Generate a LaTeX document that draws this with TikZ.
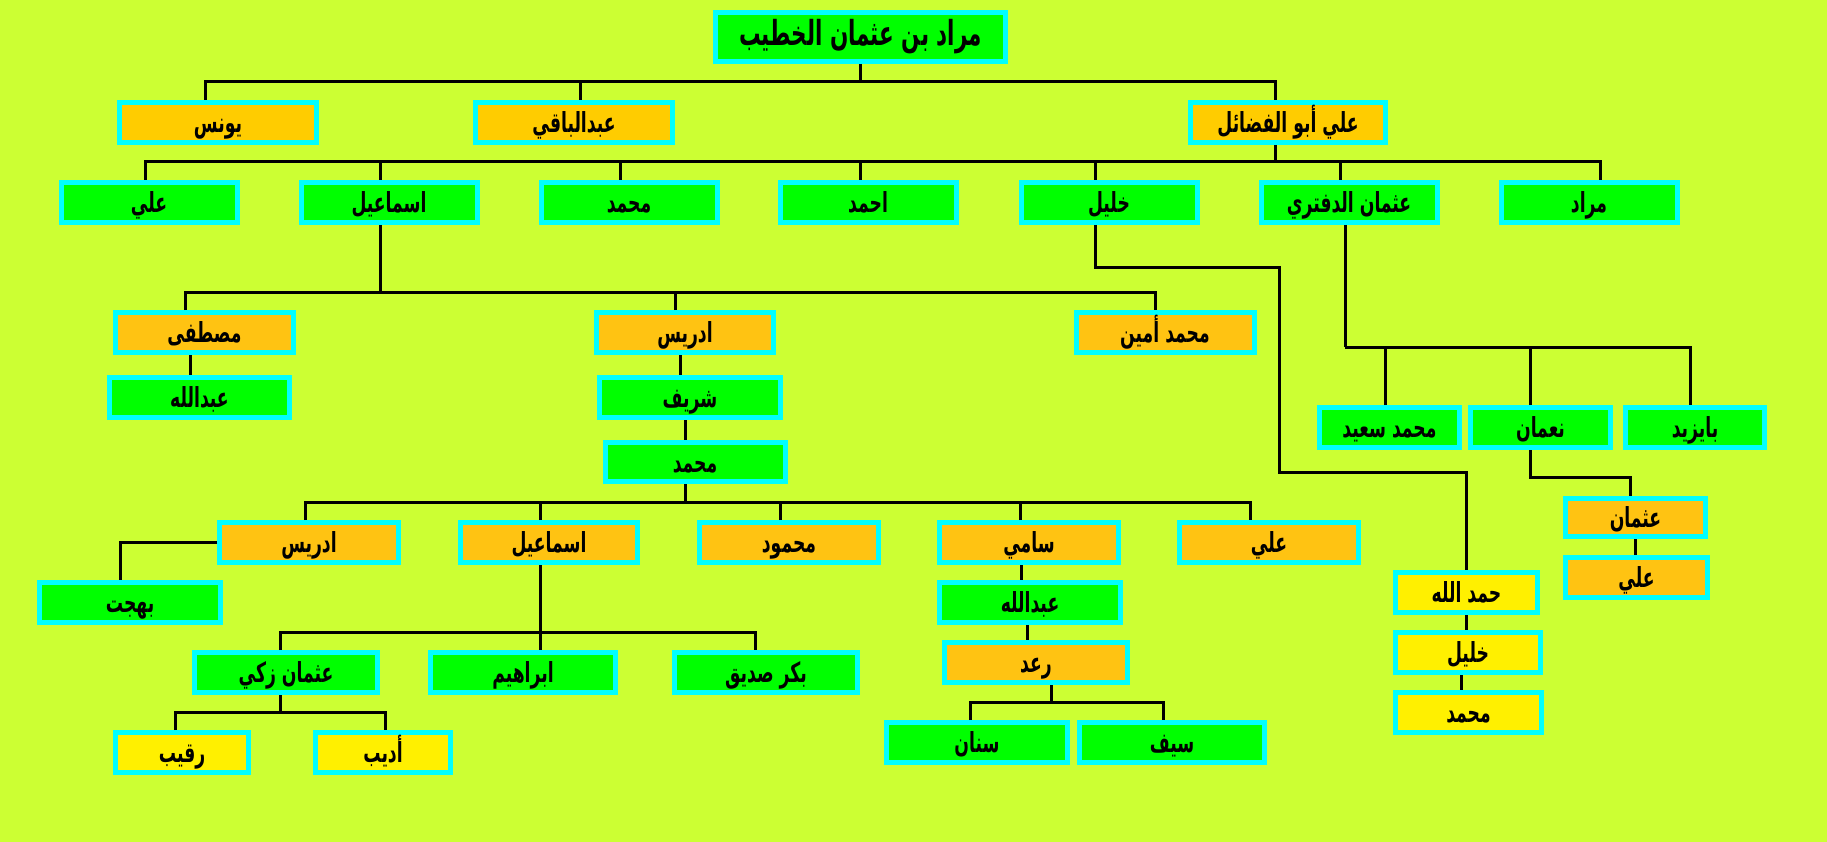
\documentclass[tikz,border=0pt]{standalone}
\usepackage{fontspec}
\usepackage{graphicx}
\newfontfamily\arabicfont[Script=Arabic]{DejaVu Sans}
\TeXXeTstate=1
\newcommand\ar[1]{\scalebox{0.86}[1.38]{\arabicfont\bfseries\beginR #1\endR}}
\definecolor{bg}{HTML}{CCFF33}
\definecolor{gfill}{HTML}{00FF00}
\definecolor{ofillA}{HTML}{FFCC00}
\definecolor{ofill}{HTML}{FFC312}
\definecolor{yfill}{HTML}{FFF000}
\definecolor{brd}{HTML}{00FFFF}
\tikzset{
  box/.style={draw=brd, line width=5pt, inner sep=0pt, minimum height=40pt, text=black,
    text height=24pt, text depth=4pt, font=\fontsize{20}{22}\selectfont},
  gbox/.style={box, fill=gfill},
  obox/.style={box, fill=ofill},
  oboxA/.style={box, fill=ofillA},
  ybox/.style={box, fill=yfill},
  link/.style={draw=black, line width=3pt},
}
\begin{document}
\begin{tikzpicture}[x=1pt,y=-1pt]
\fill[bg] (0,0) rectangle (1827,842);
\useasboundingbox (0,0) rectangle (1827,842);
% root
\node[gbox, minimum width=290pt, minimum height=49pt, text height=24pt, text depth=6pt, font=\fontsize{25}{28}\selectfont] (root) at (860.5,37) {\ar{مراد بن عثمان الخطيب}};
% row 1
\node[oboxA, minimum width=197pt] (younes) at (218,122.5) {\ar{يونس}};
\node[oboxA, minimum width=197pt] (abdulbaqi) at (574,122.5) {\ar{عبدالباقي}};
\node[oboxA, minimum width=195pt] (aliabu) at (1288,122.5) {\ar{علي أبو الفضائل}};
% row 2
\node[gbox, minimum width=176pt] (ali1) at (149,202.5) {\ar{علي}};
\node[gbox, minimum width=176pt] (ismail1) at (389,202.5) {\ar{اسماعيل}};
\node[gbox, minimum width=176pt] (muhammad1) at (629,202.5) {\ar{محمد}};
\node[gbox, minimum width=176pt] (ahmad) at (868,202.5) {\ar{احمد}};
\node[gbox, minimum width=176pt] (khalil1) at (1109,202.5) {\ar{خليل}};
\node[gbox, minimum width=176pt] (uthmand) at (1349,202.5) {\ar{عثمان الدفتري}};
\node[gbox, minimum width=176pt] (murad) at (1589,202.5) {\ar{مراد}};
% row 3
\node[obox, minimum width=178pt] (mustafa) at (204.5,332.5) {\ar{مصطفى}};
\node[obox, minimum width=177pt] (idris1) at (685,332.5) {\ar{ادريس}};
\node[obox, minimum width=178pt] (mamin) at (1165,332.5) {\ar{محمد أمين}};
% row 4
\node[gbox, minimum width=180pt] (abdullah1) at (199.5,397.5) {\ar{عبدالله}};
\node[gbox, minimum width=181pt] (sharif) at (690,397.5) {\ar{شريف}};
\node[gbox, minimum width=180pt, minimum height=39pt] (muhammad2) at (695,462) {\ar{محمد}};
% row 5
\node[obox, minimum width=179pt] (idris2) at (309,542.5) {\ar{ادريس}};
\node[obox, minimum width=177pt] (ismail2) at (549,542.5) {\ar{اسماعيل}};
\node[obox, minimum width=179pt] (mahmud) at (789,542.5) {\ar{محمود}};
\node[obox, minimum width=179pt] (sami) at (1029,542.5) {\ar{سامي}};
\node[obox, minimum width=179pt] (ali2) at (1269,542.5) {\ar{علي}};
\node[gbox, minimum width=181pt] (bahjat) at (130,602.5) {\ar{بهجت}};
% row 6
\node[gbox, minimum width=183pt] (uthmanz) at (286,672.5) {\ar{عثمان زكي}};
\node[gbox, minimum width=185pt] (ibrahim) at (523,672.5) {\ar{ابراهيم}};
\node[gbox, minimum width=183pt] (bakr) at (766,672.5) {\ar{بكر صديق}};
% row 7
\node[ybox, minimum width=133pt] (raqib) at (182,752.5) {\ar{رقيب}};
\node[ybox, minimum width=135pt] (adib) at (383,752.5) {\ar{أديب}};
% sami branch
\node[gbox, minimum width=181pt] (abdullah2) at (1030,602.5) {\ar{عبدالله}};
\node[obox, minimum width=183pt] (raad) at (1036,662.5) {\ar{رعد}};
\node[gbox, minimum width=181pt] (sinan) at (977,742.5) {\ar{سنان}};
\node[gbox, minimum width=185pt] (saif) at (1172,742.5) {\ar{سيف}};
% uthman al-daftari branch
\node[gbox, minimum width=140pt] (msaeed) at (1389.5,427.5) {\ar{محمد سعيد}};
\node[gbox, minimum width=140pt] (numan) at (1540.5,427.5) {\ar{نعمان}};
\node[gbox, minimum width=139pt] (bayazid) at (1695,427.5) {\ar{بايزيد}};
\node[obox, minimum width=140pt, minimum height=38pt] (uthman) at (1635.5,517.5) {\ar{عثمان}};
\node[obox, minimum width=142pt] (ali3) at (1636.5,577.5) {\ar{علي}};
% khalil branch
\node[ybox, minimum width=142pt] (hamdallah) at (1466.5,592.5) {\ar{حمد الله}};
\node[ybox, minimum width=145pt] (khalil2) at (1468,652.5) {\ar{خليل}};
\node[ybox, minimum width=146pt] (muhammad3) at (1468.5,712.5) {\ar{محمد}};

% connectors
\coordinate (j0) at (860.5,82);
\draw[link] (root.south) -- (j0);
\draw[link] (younes.north -| 205,0) |- (j0) -| (aliabu.north -| 1275,0);
\draw[link] (abdulbaqi.north -| 580,0) -- (580,82);

\coordinate (j1) at (1275,162);
\draw[link] (aliabu.south -| 1275,0) -- (j1);
\draw[link] (ali1.north -| 145,0) |- (j1) -| (murad.north -| 1600,0);
\draw[link] (ismail1.north -| 380,0) -- (380,162);
\draw[link] (muhammad1.north -| 620,0) -- (620,162);
\draw[link] (ahmad.north -| 860,0) -- (860,162);
\draw[link] (khalil1.north -| 1095,0) -- (1095,162);
\draw[link] (uthmand.north -| 1340,0) -- (1340,162);

\coordinate (j2) at (380,292);
\draw[link] (ismail1.south -| 380,0) -- (j2);
\draw[link] (mustafa.north -| 185.5,0) |- (j2) -| (mamin.north -| 1155,0);
\draw[link] (idris1.north -| 675.5,0) -- (675.5,292);
\draw[link] (mustafa.south -| 190,0) -- (abdullah1.north -| 190,0);
\draw[link] (idris1.south -| 680,0) -- (sharif.north -| 680,0);
\draw[link] (sharif.south -| 685.5,0) -- (muhammad2.north -| 685.5,0);

\coordinate (j3) at (685.5,502);
\draw[link] (muhammad2.south -| 685.5,0) -- (j3);
\draw[link] (idris2.north -| 305.7,0) |- (j3) -| (ali2.north -| 1250.6,0);
\draw[link] (ismail2.north -| 540.5,0) -- (540.5,502);
\draw[link] (mahmud.north -| 780.5,0) -- (780.5,502);
\draw[link] (sami.north -| 1020,0) -- (1020,502);

\draw[link] (idris2.west |- 0,542) -| (bahjat.north -| 120,0);

\coordinate (j4) at (540.5,632);
\draw[link] (ismail2.south -| 540.5,0) -- (ibrahim.north -| 540.5,0);
\draw[link] (uthmanz.north -| 280.5,0) |- (j4) -| (bakr.north -| 755,0);

\coordinate (j5) at (280.5,712);
\draw[link] (uthmanz.south -| 280.5,0) -- (j5);
\draw[link] (raqib.north -| 175.5,0) |- (j5) -| (adib.north -| 385.5,0);

\draw[link] (sami.south -| 1021,0) -- (abdullah2.north -| 1021,0);
\draw[link] (abdullah2.south -| 1027,0) -- (raad.north -| 1027,0);
\coordinate (j6) at (1051,702);
\draw[link] (raad.south -| 1051,0) -- (j6);
\draw[link] (sinan.north -| 970,0) |- (j6) -| (saif.north -| 1163,0);

\coordinate (j7) at (1345,347);
\draw[link] (uthmand.south -| 1345,0) -- (j7);
\draw[link] (j7) -| (bayazid.north -| 1690,0);
\draw[link] (msaeed.north -| 1385,0) -- (1385,347);
\draw[link] (numan.north -| 1530,0) -- (1530,347);

\draw[link] (numan.south -| 1530,0) |- (1630,477) -- (uthman.north -| 1630,0);
\draw[link] (uthman.south -| 1635,0) -- (ali3.north -| 1635,0);

\draw[link] (khalil1.south -| 1095,0) |- (1279.5,267) |- (1466,472) -- (hamdallah.north -| 1466,0);
\draw[link] (hamdallah.south -| 1466,0) -- (khalil2.north -| 1466,0);
\draw[link] (khalil2.south -| 1461,0) -- (muhammad3.north -| 1461,0);
\end{tikzpicture}
\end{document}
